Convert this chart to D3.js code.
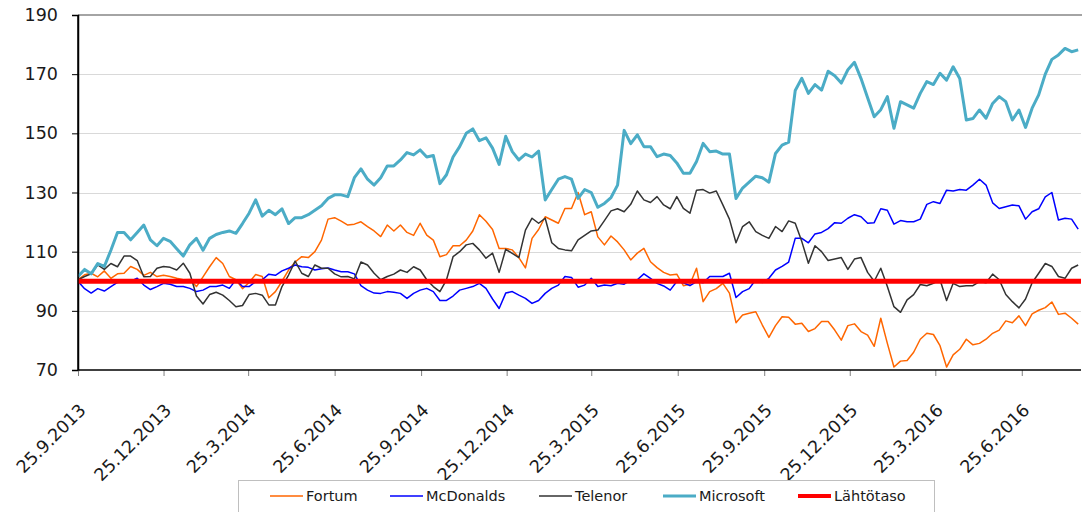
<!DOCTYPE html>
<html>

<head>
  <meta charset="utf-8">
  <style>
    body { margin: 0; background: #fff; }
    svg { display: block; font-family: "DejaVu Sans", sans-serif; }
  </style>
</head>

<body>
  <div class="chart"></div>
  <script src="https://d3js.org/d3.v7.min.js"></script>
  <script>
    // weekly closes, indexed to 100 at 25.9.2013
    var dates = [
      "2013-09-25", "2013-10-02", "2013-10-09", "2013-10-16", "2013-10-23", "2013-10-30", "2013-11-06", "2013-11-13", "2013-11-20", "2013-11-27",
      "2013-12-04", "2013-12-11", "2013-12-18", "2013-12-25", "2014-01-01", "2014-01-08", "2014-01-15", "2014-01-22", "2014-01-29", "2014-02-05",
      "2014-02-12", "2014-02-19", "2014-02-26", "2014-03-05", "2014-03-12", "2014-03-19", "2014-03-26", "2014-04-02", "2014-04-09", "2014-04-16",
      "2014-04-23", "2014-04-30", "2014-05-07", "2014-05-14", "2014-05-21", "2014-05-28", "2014-06-04", "2014-06-11", "2014-06-18", "2014-06-25",
      "2014-07-02", "2014-07-09", "2014-07-16", "2014-07-23", "2014-07-30", "2014-08-06", "2014-08-13", "2014-08-20", "2014-08-27", "2014-09-03",
      "2014-09-10", "2014-09-17", "2014-09-24", "2014-10-01", "2014-10-08", "2014-10-15", "2014-10-22", "2014-10-29", "2014-11-05", "2014-11-12",
      "2014-11-19", "2014-11-26", "2014-12-03", "2014-12-10", "2014-12-17", "2014-12-24", "2014-12-31", "2015-01-07", "2015-01-14", "2015-01-21",
      "2015-01-28", "2015-02-04", "2015-02-11", "2015-02-18", "2015-02-25", "2015-03-04", "2015-03-11", "2015-03-18", "2015-03-25", "2015-04-01",
      "2015-04-08", "2015-04-15", "2015-04-22", "2015-04-29", "2015-05-06", "2015-05-13", "2015-05-20", "2015-05-27", "2015-06-03", "2015-06-10",
      "2015-06-17", "2015-06-24", "2015-07-01", "2015-07-08", "2015-07-15", "2015-07-22", "2015-07-29", "2015-08-05", "2015-08-12", "2015-08-19",
      "2015-08-26", "2015-09-02", "2015-09-09", "2015-09-16", "2015-09-23", "2015-09-30", "2015-10-07", "2015-10-14", "2015-10-21", "2015-10-28",
      "2015-11-04", "2015-11-11", "2015-11-18", "2015-11-25", "2015-12-02", "2015-12-09", "2015-12-16", "2015-12-23", "2015-12-30", "2016-01-06",
      "2016-01-13", "2016-01-20", "2016-01-27", "2016-02-03", "2016-02-10", "2016-02-17", "2016-02-24", "2016-03-02", "2016-03-09", "2016-03-16",
      "2016-03-23", "2016-03-30", "2016-04-06", "2016-04-13", "2016-04-20", "2016-04-27", "2016-05-04", "2016-05-11", "2016-05-18", "2016-05-25",
      "2016-06-01", "2016-06-08", "2016-06-15", "2016-06-22", "2016-06-29", "2016-07-06", "2016-07-13", "2016-07-20", "2016-07-27", "2016-08-03",
      "2016-08-10", "2016-08-17", "2016-08-24"
    ];

    var fortum = [
      100.5, 102.2, 102.7, 101.5, 103.5, 101, 102.5, 102.7, 105, 104, 102, 103, 101.6, 102, 101.6, 101, 100.5, 100.6, 98.2, 101.5,
      104.9, 108, 106, 101.6, 100.5, 97.5, 99.6, 102.3, 101.6, 94.4, 96.5, 100, 103.8, 106.5, 108.3, 108, 110, 113.9, 121,
      121.5, 120.3, 119, 119.3, 120.1, 118.5, 117, 115.1, 119, 117, 119, 116.5, 115.5, 119.6, 115.6, 113.9, 108.3, 109, 112, 112,
      113.9, 117, 122.5, 120.3, 117.5, 111.1, 111.1, 110.6, 108, 104.5, 114.5, 117.5, 121.8, 120.7, 119.6, 124.6, 124.6, 130,
      122.5, 123.5, 115, 112.3, 115.3, 113.3, 110.6, 107.2, 109.5, 111.1, 106.6, 104.6, 103, 102.1, 102.4, 98.5, 99, 104.4, 93.1, 96.5,
      97.5, 99.3, 96, 86, 88.6, 89.2, 89.7, 85.2, 81, 85, 88, 87.8, 85.5, 85.8, 83, 84, 86.4, 86.4,
      83.5, 80.1, 85, 85.6, 83, 81.8, 78, 87.5, 79, 71, 73, 73.2, 76, 80.4, 82.4, 82, 78.2, 71, 75.1, 77,
      80.4, 78.5, 79, 80.4, 82.4, 83.5, 86.6, 86, 88.3, 85, 89, 90.2, 91.1, 93, 88.8, 89.2, 87.5, 85.5
    ];

    var mcdonalds = [
      100, 97.5, 96, 97.5, 96.7, 98.2, 99.6, 100, 100, 101, 98.7, 97.2, 98.2, 99.3, 99, 98.2, 98.2, 97.6, 96.5, 97,
      98.2, 98.2, 98.7, 97.6, 100.5, 98.2, 98.2, 99.9, 100.5, 102.4, 102, 103.5, 104.4, 105.5, 104.9, 104.7, 103.8, 104.2, 104.5,
      103.8, 103.2, 103.2, 102.5, 98.5, 97, 96, 95.9, 96.5, 96.3, 95.9, 94.2, 95.9, 97, 97.6, 96.5, 93.5, 93.5, 95, 97,
      97.6, 98.2, 99.3, 97.6, 94, 90.8, 96, 96.5, 95.3, 94.2, 92.5, 93.5, 95.9, 97.6, 98.7, 101.6, 101.3, 98,
      98.7, 101, 98.2, 98.7, 98.5, 99.3, 99, 100.5, 100.5, 102.5, 101, 99.3, 98.4, 97, 99.9, 99.5, 98.5, 99.9, 99.5, 101.6,
      101.6, 101.6, 102.7, 94.5, 96.5, 97.5, 100.5, 99.6, 101, 103.8, 105, 106.5, 114.5, 114.5, 113, 116, 116.5, 117.8,
      119.8, 119.6, 121.3, 122.5, 121.8, 119.6, 119.8, 124.5, 124, 119.3, 120.5, 120.1, 120.1, 121, 126, 126.9, 126.3, 130.8, 130.5, 131,
      130.8, 132.5, 134.5, 132.5, 126.5, 124.6, 125.2, 125.8, 125.5, 121, 123.5, 124.5, 128.5, 130, 120.7, 121.3, 121, 117.6
    ];

    var telenor = [
      100.5, 101.6, 102.5, 105.5, 104, 106, 104.9, 108.5, 108.5, 107, 101.5, 101.6, 104.4, 105, 104.7, 103.8, 106.1, 102.7, 95, 92.3,
      95.5, 96.3, 95.3, 93.5, 91.4, 91.8, 95.5, 95.9, 95.3, 92, 92, 98.2, 102.1, 106.8, 102.7, 101.6, 105.5, 104.4, 104.4,
      102.5, 101.5, 101.6, 100.8, 106.5, 105.5, 102.7, 100.5, 101.6, 102.4, 103.8, 103, 104.9, 103.8, 100.5, 98.2, 96.5, 100.5, 108.3, 110,
      112.3, 112.8, 110.6, 107.8, 109.5, 103, 110.8, 109.4, 108, 117.3, 121.3, 119.6, 121.3, 113, 111.1, 110.6, 110.3, 114,
      115.5, 117, 117.3, 120.5, 123.8, 124.5, 123.5, 126, 130.5, 127.5, 126.6, 128.6, 125.8, 124.5, 128.6, 124.6, 123, 130.8, 131, 129.8,
      130.5, 125.8, 121, 113, 118.5, 120.1, 116.8, 115.5, 114.5, 118.5, 116.8, 120.4, 119.6, 113.4, 106.1, 112, 110, 107,
      107.5, 108, 104, 107.5, 108, 103, 100, 104.4, 98.2, 91.4, 89.5, 93.7, 95.5, 98.9, 98.5, 99.3, 100.5, 93.5, 99.3, 98.2,
      98.5, 98.5, 99.9, 99.5, 102.4, 100.5, 95.5, 93.1, 91, 94, 99.5, 102.7, 106, 105, 101.6, 101, 104.4, 105.5
    ];

    var microsoft = [
      101.6, 104, 102.5, 106, 105, 110.5, 116.5, 116.5, 114, 116.5, 119, 114, 112, 114.5, 113.5, 111, 108.5, 112.3, 114.5, 110.5,
      114.5, 115.8, 116.5, 117, 116.2, 119.5, 123, 127.5, 122, 124, 122.5, 124.5, 119.5, 121.5, 121.5, 122.5, 124, 125.5, 128,
      129.2, 129.2, 128.6, 135, 138, 134.5, 132.5, 135, 139, 139, 141, 143.5, 142.7, 144.4, 142, 142.5, 133, 136, 142, 145.5,
      150, 151.5, 147.5, 148.5, 145, 139.5, 149, 143.8, 141, 143, 142, 144, 127.5, 131, 134.5, 135.4, 134.5, 128,
      131, 130, 125, 126.3, 128.3, 132.5, 151, 146.5, 149.5, 145.5, 145.5, 142.1, 143, 142.5, 140, 136.5, 136.5, 140.5, 146.6, 143.8,
      144, 143, 143, 128, 131.5, 133.5, 135.5, 135, 133.5, 143.2, 146, 147, 164.5, 168.6, 163.5, 166.5, 164.6, 171,
      169.5, 167, 171.5, 174, 168.5, 162, 155.6, 158, 162.4, 151.7, 160.7, 159.6, 158.5, 163.5, 167.5, 166.5, 170.3, 168, 172.5, 168.5,
      154.5, 155, 157.9, 155.1, 160.1, 162.4, 160.7, 154.5, 157.9, 152, 158.5, 163, 170, 175, 176.5, 178.7, 177.6, 178.2
    ];

    var baseLevel = 100; // Lähtötaso

    var seriesNames = ["Fortum", "McDonalds", "Telenor", "Microsoft", "Lähtötaso"];
    var seriesColors = ["#ff6600", "#0000ff", "#333333", "#4bacc6", "#ff0000"];
    var seriesWidths = [1.5, 1.5, 1.5, 3, 5];

    var xTicks = ["2013-09-25", "2013-12-25", "2014-03-25", "2014-06-25", "2014-09-25", "2014-12-25",
      "2015-03-25", "2015-06-25", "2015-09-25", "2015-12-25", "2016-03-25", "2016-06-25"];
    var yTicks = [70, 90, 110, 130, 150, 170, 190];

    var width = 1082,
      height = 512,
      margin = { top: 15, right: 1, bottom: 142, left: 78 };

    var parse = d3.timeParse("%Y-%m-%d");
    var fmt = d3.timeFormat("%-d.%-m.%Y");

    var x = d3.scaleTime()
      .domain([parse("2013-09-25"), parse("2016-08-27")])
      .range([margin.left, width - margin.right]);

    var y = d3.scaleLinear()
      .domain([70, 190])
      .range([height - margin.bottom, margin.top]);

    var svg = d3.select(".chart").append("svg")
      .attr("width", width)
      .attr("height", height);

    var x0 = margin.left, x1 = width - margin.right;
    var yb = y(70), yt = y(190);

    // gridlines
    svg.append("g").selectAll("line")
      .data(yTicks.filter(function (d) { return d > 70 && d < 190; }))
      .enter().append("line")
      .attr("x1", x0).attr("x2", x1)
      .attr("y1", function (d) { return Math.round(y(d)) + 0.5; })
      .attr("y2", function (d) { return Math.round(y(d)) + 0.5; })
      .style("stroke", "#d9d9d9")
      .style("stroke-width", 1);

    // top border
    svg.append("line")
      .attr("x1", x0).attr("x2", width)
      .attr("y1", yt).attr("y2", yt)
      .style("stroke", "#868686")
      .style("stroke-width", 1.5);

    // y axis
    var yAxis = d3.axisLeft(y).tickValues(yTicks).tickSize(6).tickPadding(14);
    var gy = svg.append("g").attr("transform", "translate(" + x0 + ",0)").call(yAxis);
    gy.select(".domain").style("stroke", "#000").style("stroke-width", 1.5);
    gy.selectAll(".tick line").style("stroke", "#000");
    gy.selectAll("text")
      .style("font-family", "DejaVu Sans")
      .style("font-size", "17.5px")
      .style("fill", "#1a1a1a");

    // x axis, labels rotated like the original
    var xAxis = d3.axisBottom(x)
      .tickValues(xTicks.map(parse))
      .tickSize(6)
      .tickFormat(fmt);
    var gx = svg.append("g").attr("transform", "translate(0," + yb + ")").call(xAxis);
    gx.select(".domain").remove();
    gx.selectAll(".tick line").style("stroke", "#808080");
    gx.selectAll("text")
      .style("font-family", "DejaVu Sans")
      .style("font-size", "17.5px")
      .style("fill", "#1a1a1a")
      .style("text-anchor", "end")
      .attr("x", 0).attr("y", 0).attr("dy", "0.35em")
      .attr("transform", "translate(4,37) rotate(-45)");

    // bottom axis line
    svg.append("line")
      .attr("x1", x0).attr("x2", x1)
      .attr("y1", yb).attr("y2", yb)
      .style("stroke", "#000")
      .style("stroke-width", 1.5);

    var line = d3.line()
      .x(function (d) { return x(d.date); })
      .y(function (d) { return y(d.value); });

    var seriesValues = [fortum, mcdonalds, telenor, microsoft];
    svg.append("clipPath").attr("id", "plot")
      .append("rect").attr("x", x0).attr("y", yt - 3).attr("width", x1 - x0 + 1).attr("height", yb - yt + 3);

    var plot = svg.append("g").attr("clip-path", "url(#plot)");
    seriesValues.forEach(function (vals, i) {
      var pts = vals.map(function (v, j) { return { date: parse(dates[j]), value: v }; });
      plot.append("path")
        .datum(pts)
        .attr("d", line)
        .style("fill", "none")
        .style("stroke", seriesColors[i])
        .style("stroke-width", seriesWidths[i])
        .style("stroke-linejoin", "round");
    });

    // Lähtötaso
    plot.append("line")
      .attr("x1", x0).attr("x2", x1)
      .attr("y1", y(baseLevel)).attr("y2", y(baseLevel))
      .style("stroke", seriesColors[4])
      .style("stroke-width", seriesWidths[4]);

    // redraw left axis on top
    svg.append("line")
      .attr("x1", x0).attr("x2", x0)
      .attr("y1", yt).attr("y2", yb)
      .style("stroke", "#000")
      .style("stroke-width", 1.5);

    // legend
    var legendX = [270, 390, 539, 663, 798];
    svg.append("rect")
      .attr("x", 238.5).attr("y", 480.5)
      .attr("width", 696).attr("height", 40)
      .style("fill", "#fff")
      .style("stroke", "#bfbfbf");

    var items = svg.append("g").selectAll("g")
      .data(seriesNames)
      .enter().append("g")
      .attr("transform", function (d, i) { return "translate(" + legendX[i] + ",496)"; });

    items.append("line")
      .attr("x1", 0).attr("x2", 33)
      .style("stroke", function (d, i) { return seriesColors[i]; })
      .style("stroke-width", function (d, i) { return Math.min(seriesWidths[i], 4); });

    items.append("text")
      .attr("x", 36).attr("dy", "0.35em")
      .style("font-size", "14.5px")
      .style("fill", "#1a1a1a")
      .text(function (d) { return d; });
  </script>
</body>

</html>
